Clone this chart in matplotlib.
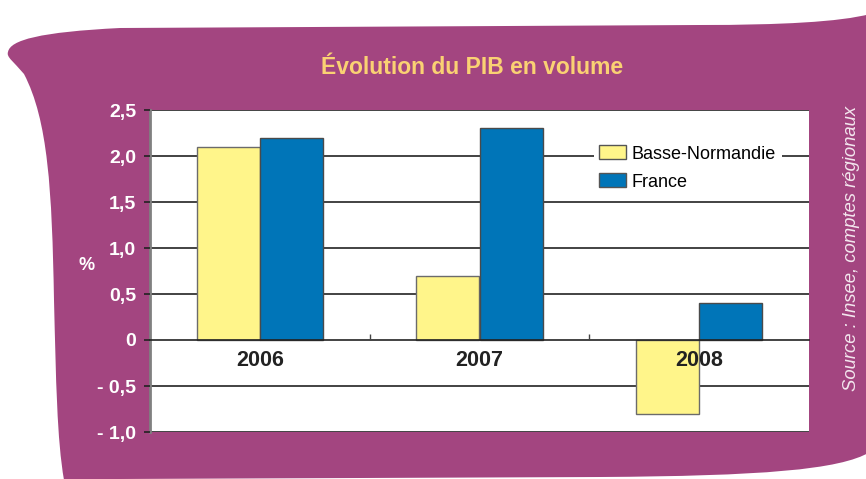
import numpy as np
import matplotlib
matplotlib.use('Agg')
import matplotlib.pyplot as plt
from matplotlib.path import Path
from matplotlib.patches import PathPatch

years = ['2006', '2007', '2008']
basse_normandie = [2.1, 0.7, -0.8]
france = [2.2, 2.3, 0.4]
yticks = [-1.0, -0.5, 0, 0.5, 1.0, 1.5, 2.0, 2.5]
ytick_labels = ['- 1,0', '- 0,5', '0', '0,5', '1,0', '1,5', '2,0', '2,5']

PURPLE = '#A34580'
YELLOW = '#FFF58A'
BLUE = '#0075B8'
TITLE_COL = '#FAD173'

plt.rcParams['font.family'] = ['Liberation Sans', 'DejaVu Sans']

W, H = 866, 479
fig = plt.figure(figsize=(W / 100, H / 100), dpi=100, facecolor='white')

# purple background blob, outline given in pixel coords (y from top)
pts = [
    ((8, 52), Path.MOVETO),
    ((10, 40), Path.CURVE4), ((40, 32), Path.CURVE4), ((120, 28), Path.CURVE4),
    ((700, 25), Path.LINETO),
    ((780, 25), Path.CURVE4), ((840, 22), Path.CURVE4), ((870, 14), Path.CURVE4),
    ((870, 452), Path.LINETO),
    ((840, 470), Path.CURVE4), ((760, 476), Path.CURVE4), ((600, 477), Path.CURVE4),
    ((120, 479), Path.LINETO),
    ((64, 480), Path.LINETO),
    ((57, 440), Path.CURVE4), ((56, 380), Path.CURVE4), ((54, 300), Path.CURVE4),
    ((52, 190), Path.CURVE4), ((48, 120), Path.CURVE4), ((24, 74), Path.CURVE4),
    ((14, 62), Path.CURVE4), ((6, 57), Path.CURVE4), ((8, 52), Path.CURVE4),
    ((8, 52), Path.CLOSEPOLY),
]
verts = [(x / W, 1 - y / H) for (x, y), _ in pts]
codes = [c for _, c in pts]
blob = PathPatch(Path(verts, codes), facecolor=PURPLE, edgecolor='none',
                 transform=fig.transFigure, zorder=-1)
fig.add_artist(blob)

ax = fig.add_axes([150 / W, 1 - 432 / H, (809 - 150) / W, (432 - 110) / H])
ax.set_facecolor('white')

x = np.arange(len(years))
w = 0.287
ax.bar(x - w / 2, basse_normandie, w, color=YELLOW, edgecolor='#6b6b6b',
       linewidth=1, label='Basse-Normandie', zorder=1)
ax.bar(x + w / 2, france, w, color=BLUE, edgecolor='#4a4a4a',
       linewidth=1, label='France', zorder=1)

for yv in yticks:
    if yv != 0:
        ax.axhline(yv, color='#222222', lw=1.2, zorder=0.5)

ax.set_xlim(-0.5, 2.5)
ax.set_ylim(-1.0, 2.5)
ax.set_axisbelow(False)

for s in ['top', 'right']:
    ax.spines[s].set_visible(False)
ax.spines['left'].set_color('#808080')
ax.spines['left'].set_linewidth(2)
ax.spines['bottom'].set_position(('data', 0))
ax.spines['bottom'].set_color('#222222')
ax.spines['bottom'].set_linewidth(1.2)

ax.set_yticks(yticks)
ax.set_yticklabels(ytick_labels, color='white', fontweight='bold', fontsize=14)
ax.tick_params(axis='y', length=4, width=1.2, color='#222222', pad=6)

ax.set_xticks(x)
ax.set_xticklabels(years, fontweight='bold', fontsize=15.5, color='#222222')
ax.tick_params(axis='x', which='major', length=0, pad=7)
ax.set_xticks([0.5, 1.5], minor=True)
ax.tick_params(axis='x', which='minor', direction='in', length=4,
               width=1, color='#444444')

leg = ax.legend(loc='upper left', bbox_to_anchor=(0.66, 0.935), frameon=True,
                facecolor='white', edgecolor='none', framealpha=1, fancybox=False,
                fontsize=13, handlelength=1.45, handleheight=0.8,
                handletextpad=0.35, labelspacing=0.6, borderpad=0.3)
for p in leg.get_patches():
    p.set_edgecolor('#555555')

fig.text(472 / W, 1 - 67 / H, 'Évolution du PIB en volume', color=TITLE_COL,
         fontsize=16.5, fontweight='bold', ha='center', va='center')
fig.text(87 / W, 1 - 265 / H, '%', color='white', fontsize=13,
         fontweight='bold', ha='center', va='center')
fig.text(852 / W, 1 - 248 / H, 'Source : Insee, comptes régionaux',
         color='#F3E6EE', fontsize=13.3, style='italic', rotation=90,
         ha='center', va='center')

fig.savefig('out.png', dpi=100, facecolor='white')
